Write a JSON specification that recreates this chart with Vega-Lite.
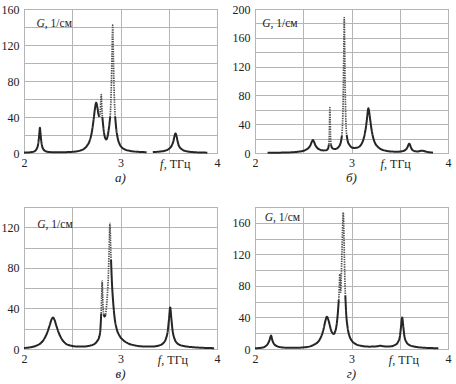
{
  "$schema": "https://vega.github.io/schema/vega-lite/v6.json",
  "padding": {"left": 0, "top": 2, "right": 0, "bottom": 0},
  "background": "white",
  "spacing": 14,
  "config": {
    "view": {"stroke": "#8c8c8c", "strokeWidth": 1},
    "font": "Liberation Serif",
    "axisX": {"title": null, "values": [2,2.2,2.4,2.6,2.8,3,3.2,3.4,3.6,3.8,4], "labelExpr": "abs(datum.value - round(datum.value)) < 0.01 ? format(datum.value, 'd') : ''", "grid": true, "gridColor": "#b5b5b5", "gridWidth": 1, "gridOpacity": 1, "ticks": false, "domain": false, "labelFont": "Liberation Serif", "labelFontSize": 12, "labelColor": "#222222", "labelPadding": 4, "labelFlush": false, "labelOverlap": false, "labelBound": false, "zindex": 0},
    "axisY": {"title": null, "labelExpr": "datum.value % 40 == 0 ? datum.label : ''", "grid": true, "gridColor": "#b5b5b5", "gridWidth": 1, "gridOpacity": 1, "ticks": false, "domain": false, "labelFont": "Liberation Serif", "labelFontSize": 12, "labelColor": "#222222", "labelPadding": 5, "labelFlush": false, "labelOverlap": false, "labelBound": false, "zindex": 0},
    "title": {"orient": "bottom", "font": "Liberation Serif", "fontSize": 13, "fontStyle": "italic", "fontWeight": "normal", "color": "#222222", "offset": 2}
  },
  "datasets": {
    "a": [
      {"f":2.00,"G":0.4,"s":1,"t":"s"},{"f":2.04,"G":0.6,"s":1,"t":"s"},{"f":2.08,"G":1.0,"s":1,"t":"s"},{"f":2.11,"G":2.0,"s":1,"t":"s"},{"f":2.13,"G":4.3,"s":1,"t":"s"},{"f":2.145,"G":9,"s":1,"t":"s"},{"f":2.155,"G":17,"s":1,"t":"s"},{"f":2.16,"G":23,"s":1,"t":"s"},{"f":2.165,"G":28,"s":1,"t":"s"},{"f":2.17,"G":23,"s":1,"t":"s"},{"f":2.175,"G":17,"s":1,"t":"s"},{"f":2.185,"G":9,"s":1,"t":"s"},{"f":2.20,"G":4.3,"s":1,"t":"s"},{"f":2.23,"G":1.8,"s":1,"t":"s"},{"f":2.27,"G":1.0,"s":1,"t":"s"},{"f":2.35,"G":0.8,"s":1,"t":"s"},{"f":2.45,"G":1.0,"s":1,"t":"s"},{"f":2.52,"G":1.5,"s":1,"t":"s"},{"f":2.58,"G":2.6,"s":1,"t":"s"},{"f":2.62,"G":4.5,"s":1,"t":"s"},{"f":2.65,"G":7.6,"s":1,"t":"s"},{"f":2.68,"G":13.5,"s":1,"t":"s"},{"f":2.70,"G":21.5,"s":1,"t":"s"},{"f":2.72,"G":36,"s":1,"t":"s"},{"f":2.735,"G":49,"s":1,"t":"s"},{"f":2.748,"G":56,"s":1,"t":"s"},{"f":2.76,"G":51,"s":1,"t":"s"},{"f":2.772,"G":43,"s":1,"t":"s"},{"f":2.782,"G":40,"s":1,"t":"s"},
      {"f":2.782,"G":40,"s":2,"t":"d"},{"f":2.79,"G":46,"s":2,"t":"d"},{"f":2.796,"G":58,"s":2,"t":"d"},{"f":2.80,"G":65,"s":2,"t":"d"},{"f":2.804,"G":58,"s":2,"t":"d"},{"f":2.808,"G":47,"s":2,"t":"d"},{"f":2.812,"G":40,"s":2,"t":"d"},
      {"f":2.812,"G":40,"s":3,"t":"s"},{"f":2.82,"G":31,"s":3,"t":"s"},{"f":2.83,"G":22,"s":3,"t":"s"},{"f":2.84,"G":17,"s":3,"t":"s"},{"f":2.854,"G":15,"s":3,"t":"s"},{"f":2.865,"G":18,"s":3,"t":"s"},{"f":2.875,"G":24,"s":3,"t":"s"},{"f":2.885,"G":32,"s":3,"t":"s"},{"f":2.893,"G":40,"s":3,"t":"s"},
      {"f":2.893,"G":40,"s":4,"t":"d"},{"f":2.90,"G":56,"s":4,"t":"d"},{"f":2.906,"G":78,"s":4,"t":"d"},{"f":2.912,"G":108,"s":4,"t":"d"},{"f":2.916,"G":130,"s":4,"t":"d"},{"f":2.919,"G":142,"s":4,"t":"d"},{"f":2.922,"G":130,"s":4,"t":"d"},{"f":2.926,"G":108,"s":4,"t":"d"},{"f":2.932,"G":78,"s":4,"t":"d"},{"f":2.938,"G":56,"s":4,"t":"d"},{"f":2.945,"G":40,"s":4,"t":"d"},
      {"f":2.945,"G":40,"s":5,"t":"s"},{"f":2.955,"G":28,"s":5,"t":"s"},{"f":2.97,"G":17,"s":5,"t":"s"},{"f":2.99,"G":10,"s":5,"t":"s"},{"f":3.01,"G":6.5,"s":5,"t":"s"},{"f":3.04,"G":4.2,"s":5,"t":"s"},{"f":3.08,"G":2.7,"s":5,"t":"s"},{"f":3.13,"G":1.8,"s":5,"t":"s"},{"f":3.20,"G":1.2,"s":5,"t":"s"},{"f":3.27,"G":0.9,"s":5,"t":"s"},
      {"f":3.335,"G":1.0,"s":6,"t":"s"},{"f":3.40,"G":1.5,"s":6,"t":"s"},{"f":3.45,"G":2.3,"s":6,"t":"s"},{"f":3.50,"G":4.5,"s":6,"t":"s"},{"f":3.53,"G":8,"s":6,"t":"s"},{"f":3.55,"G":14,"s":6,"t":"s"},{"f":3.56,"G":19,"s":6,"t":"s"},{"f":3.57,"G":22,"s":6,"t":"s"},{"f":3.58,"G":19,"s":6,"t":"s"},{"f":3.59,"G":14,"s":6,"t":"s"},{"f":3.605,"G":8,"s":6,"t":"s"},{"f":3.635,"G":4.2,"s":6,"t":"s"},{"f":3.68,"G":2,"s":6,"t":"s"},{"f":3.75,"G":1.0,"s":6,"t":"s"},{"f":3.82,"G":0.6,"s":6,"t":"s"},{"f":3.90,"G":0.4,"s":6,"t":"s"}
    ],
    "b": [
      {"f":2.13,"G":0.3,"s":1,"t":"s"},{"f":2.20,"G":0.4,"s":1,"t":"s"},{"f":2.30,"G":0.6,"s":1,"t":"s"},{"f":2.38,"G":1.0,"s":1,"t":"s"},{"f":2.44,"G":1.6,"s":1,"t":"s"},{"f":2.48,"G":2.4,"s":1,"t":"s"},{"f":2.52,"G":4.0,"s":1,"t":"s"},{"f":2.55,"G":6.5,"s":1,"t":"s"},{"f":2.575,"G":11,"s":1,"t":"s"},{"f":2.59,"G":16,"s":1,"t":"s"},{"f":2.60,"G":18,"s":1,"t":"s"},{"f":2.61,"G":16,"s":1,"t":"s"},{"f":2.625,"G":11,"s":1,"t":"s"},{"f":2.65,"G":6.5,"s":1,"t":"s"},{"f":2.68,"G":4.3,"s":1,"t":"s"},{"f":2.71,"G":3.6,"s":1,"t":"s"},{"f":2.735,"G":3.8,"s":1,"t":"s"},{"f":2.75,"G":4.8,"s":1,"t":"s"},{"f":2.76,"G":7.5,"s":1,"t":"s"},{"f":2.766,"G":12,"s":1,"t":"s"},
      {"f":2.766,"G":12,"s":2,"t":"d"},{"f":2.77,"G":25,"s":2,"t":"d"},{"f":2.773,"G":45,"s":2,"t":"d"},{"f":2.776,"G":63,"s":2,"t":"d"},{"f":2.779,"G":45,"s":2,"t":"d"},{"f":2.782,"G":25,"s":2,"t":"d"},{"f":2.787,"G":12,"s":2,"t":"d"},
      {"f":2.787,"G":12,"s":3,"t":"s"},{"f":2.795,"G":8,"s":3,"t":"s"},{"f":2.81,"G":6,"s":3,"t":"s"},{"f":2.83,"G":5.5,"s":3,"t":"s"},{"f":2.85,"G":6.5,"s":3,"t":"s"},{"f":2.87,"G":9,"s":3,"t":"s"},{"f":2.885,"G":13,"s":3,"t":"s"},{"f":2.895,"G":19,"s":3,"t":"s"},{"f":2.90,"G":24,"s":3,"t":"s"},
      {"f":2.90,"G":24,"s":4,"t":"d"},{"f":2.907,"G":40,"s":4,"t":"d"},{"f":2.913,"G":70,"s":4,"t":"d"},{"f":2.918,"G":115,"s":4,"t":"d"},{"f":2.922,"G":160,"s":4,"t":"d"},{"f":2.925,"G":188,"s":4,"t":"d"},{"f":2.928,"G":160,"s":4,"t":"d"},{"f":2.932,"G":115,"s":4,"t":"d"},{"f":2.937,"G":70,"s":4,"t":"d"},{"f":2.943,"G":40,"s":4,"t":"d"},{"f":2.95,"G":25,"s":4,"t":"d"},
      {"f":2.95,"G":25,"s":5,"t":"s"},{"f":2.96,"G":17,"s":5,"t":"s"},{"f":2.98,"G":11,"s":5,"t":"s"},{"f":3.00,"G":8,"s":5,"t":"s"},{"f":3.03,"G":7,"s":5,"t":"s"},{"f":3.06,"G":7.5,"s":5,"t":"s"},{"f":3.09,"G":10,"s":5,"t":"s"},{"f":3.11,"G":14,"s":5,"t":"s"},{"f":3.13,"G":22,"s":5,"t":"s"},{"f":3.145,"G":32,"s":5,"t":"s"},{"f":3.16,"G":47,"s":5,"t":"s"},{"f":3.175,"G":62,"s":5,"t":"s"},{"f":3.19,"G":50,"s":5,"t":"s"},{"f":3.205,"G":35,"s":5,"t":"s"},{"f":3.22,"G":24,"s":5,"t":"s"},{"f":3.24,"G":15,"s":5,"t":"s"},{"f":3.27,"G":9,"s":5,"t":"s"},{"f":3.31,"G":5,"s":5,"t":"s"},{"f":3.36,"G":3,"s":5,"t":"s"},{"f":3.42,"G":2,"s":5,"t":"s"},{"f":3.48,"G":1.8,"s":5,"t":"s"},{"f":3.53,"G":2.6,"s":5,"t":"s"},{"f":3.56,"G":4.5,"s":5,"t":"s"},{"f":3.58,"G":8,"s":5,"t":"s"},{"f":3.592,"G":12,"s":5,"t":"s"},{"f":3.598,"G":13,"s":5,"t":"s"},{"f":3.605,"G":12,"s":5,"t":"s"},{"f":3.615,"G":8,"s":5,"t":"s"},{"f":3.63,"G":4.5,"s":5,"t":"s"},{"f":3.66,"G":2.4,"s":5,"t":"s"},{"f":3.69,"G":2.2,"s":5,"t":"s"},{"f":3.71,"G":2.8,"s":5,"t":"s"},{"f":3.73,"G":3.2,"s":5,"t":"s"},{"f":3.75,"G":2.8,"s":5,"t":"s"},{"f":3.78,"G":1.6,"s":5,"t":"s"},{"f":3.81,"G":0.9,"s":5,"t":"s"},{"f":3.845,"G":0.5,"s":5,"t":"s"}
    ],
    "c": [
      {"f":2.00,"G":1.0,"s":1,"t":"s"},{"f":2.06,"G":1.6,"s":1,"t":"s"},{"f":2.12,"G":3,"s":1,"t":"s"},{"f":2.17,"G":5.5,"s":1,"t":"s"},{"f":2.21,"G":10,"s":1,"t":"s"},{"f":2.24,"G":16,"s":1,"t":"s"},{"f":2.265,"G":23,"s":1,"t":"s"},{"f":2.285,"G":29,"s":1,"t":"s"},{"f":2.30,"G":31,"s":1,"t":"s"},{"f":2.315,"G":29,"s":1,"t":"s"},{"f":2.335,"G":23,"s":1,"t":"s"},{"f":2.36,"G":16,"s":1,"t":"s"},{"f":2.39,"G":10,"s":1,"t":"s"},{"f":2.43,"G":5.5,"s":1,"t":"s"},{"f":2.48,"G":3.5,"s":1,"t":"s"},{"f":2.55,"G":2.5,"s":1,"t":"s"},{"f":2.62,"G":2.5,"s":1,"t":"s"},{"f":2.68,"G":3.2,"s":1,"t":"s"},{"f":2.73,"G":5,"s":1,"t":"s"},{"f":2.76,"G":8,"s":1,"t":"s"},{"f":2.78,"G":12,"s":1,"t":"s"},{"f":2.792,"G":20,"s":1,"t":"s"},{"f":2.80,"G":35,"s":1,"t":"s"},
      {"f":2.80,"G":35,"s":2,"t":"d"},{"f":2.805,"G":52,"s":2,"t":"d"},{"f":2.81,"G":67,"s":2,"t":"d"},{"f":2.815,"G":52,"s":2,"t":"d"},{"f":2.82,"G":40,"s":2,"t":"d"},{"f":2.826,"G":34,"s":2,"t":"d"},
      {"f":2.826,"G":34,"s":3,"t":"s"},{"f":2.835,"G":32,"s":3,"t":"s"},{"f":2.845,"G":34,"s":3,"t":"s"},
      {"f":2.845,"G":34,"s":4,"t":"d"},{"f":2.855,"G":42,"s":4,"t":"d"},{"f":2.865,"G":55,"s":4,"t":"d"},{"f":2.875,"G":75,"s":4,"t":"d"},{"f":2.883,"G":100,"s":4,"t":"d"},{"f":2.89,"G":124,"s":4,"t":"d"},{"f":2.896,"G":108,"s":4,"t":"d"},{"f":2.902,"G":88,"s":4,"t":"d"},
      {"f":2.902,"G":88,"s":5,"t":"s"},{"f":2.91,"G":68,"s":5,"t":"s"},{"f":2.925,"G":45,"s":5,"t":"s"},{"f":2.94,"G":30,"s":5,"t":"s"},{"f":2.96,"G":20,"s":5,"t":"s"},{"f":2.99,"G":13,"s":5,"t":"s"},{"f":3.03,"G":8.5,"s":5,"t":"s"},{"f":3.08,"G":5.5,"s":5,"t":"s"},{"f":3.15,"G":3.5,"s":5,"t":"s"},{"f":3.25,"G":2.5,"s":5,"t":"s"},{"f":3.33,"G":2.5,"s":5,"t":"s"},{"f":3.40,"G":3.5,"s":5,"t":"s"},{"f":3.44,"G":5.5,"s":5,"t":"s"},{"f":3.47,"G":10,"s":5,"t":"s"},{"f":3.49,"G":18,"s":5,"t":"s"},{"f":3.503,"G":30,"s":5,"t":"s"},{"f":3.515,"G":41,"s":5,"t":"s"},{"f":3.527,"G":30,"s":5,"t":"s"},{"f":3.54,"G":18,"s":5,"t":"s"},{"f":3.56,"G":10,"s":5,"t":"s"},{"f":3.59,"G":5.5,"s":5,"t":"s"},{"f":3.65,"G":3,"s":5,"t":"s"},{"f":3.75,"G":1.8,"s":5,"t":"s"},{"f":3.85,"G":1.2,"s":5,"t":"s"},{"f":3.97,"G":0.8,"s":5,"t":"s"}
    ],
    "d": [
      {"f":2.00,"G":1.0,"s":1,"t":"s"},{"f":2.06,"G":1.5,"s":1,"t":"s"},{"f":2.10,"G":2.8,"s":1,"t":"s"},{"f":2.13,"G":6,"s":1,"t":"s"},{"f":2.15,"G":11,"s":1,"t":"s"},{"f":2.166,"G":17,"s":1,"t":"s"},{"f":2.18,"G":11,"s":1,"t":"s"},{"f":2.20,"G":6,"s":1,"t":"s"},{"f":2.24,"G":3,"s":1,"t":"s"},{"f":2.30,"G":1.8,"s":1,"t":"s"},{"f":2.40,"G":1.5,"s":1,"t":"s"},{"f":2.50,"G":2,"s":1,"t":"s"},{"f":2.56,"G":3,"s":1,"t":"s"},{"f":2.62,"G":6,"s":1,"t":"s"},{"f":2.66,"G":10,"s":1,"t":"s"},{"f":2.69,"G":17,"s":1,"t":"s"},{"f":2.71,"G":25,"s":1,"t":"s"},{"f":2.73,"G":36,"s":1,"t":"s"},{"f":2.745,"G":41,"s":1,"t":"s"},{"f":2.76,"G":37,"s":1,"t":"s"},{"f":2.775,"G":30,"s":1,"t":"s"},{"f":2.79,"G":23,"s":1,"t":"s"},{"f":2.805,"G":20,"s":1,"t":"s"},{"f":2.817,"G":19,"s":1,"t":"s"},{"f":2.83,"G":22,"s":1,"t":"s"},{"f":2.845,"G":30,"s":1,"t":"s"},{"f":2.858,"G":45,"s":1,"t":"s"},{"f":2.868,"G":62,"s":1,"t":"s"},
      {"f":2.868,"G":62,"s":2,"t":"d"},{"f":2.874,"G":80,"s":2,"t":"d"},{"f":2.879,"G":95,"s":2,"t":"d"},{"f":2.883,"G":78,"s":2,"t":"d"},{"f":2.888,"G":72,"s":2,"t":"d"},{"f":2.894,"G":92,"s":2,"t":"d"},{"f":2.90,"G":118,"s":2,"t":"d"},{"f":2.906,"G":146,"s":2,"t":"d"},{"f":2.911,"G":166,"s":2,"t":"d"},{"f":2.915,"G":173,"s":2,"t":"d"},{"f":2.919,"G":160,"s":2,"t":"d"},{"f":2.924,"G":130,"s":2,"t":"d"},{"f":2.93,"G":95,"s":2,"t":"d"},{"f":2.936,"G":68,"s":2,"t":"d"},
      {"f":2.936,"G":68,"s":3,"t":"s"},{"f":2.945,"G":45,"s":3,"t":"s"},{"f":2.96,"G":27,"s":3,"t":"s"},{"f":2.98,"G":16,"s":3,"t":"s"},{"f":3.00,"G":11,"s":3,"t":"s"},{"f":3.04,"G":6.5,"s":3,"t":"s"},{"f":3.10,"G":4,"s":3,"t":"s"},{"f":3.18,"G":3,"s":3,"t":"s"},{"f":3.25,"G":3.2,"s":3,"t":"s"},{"f":3.30,"G":4,"s":3,"t":"s"},{"f":3.35,"G":3.2,"s":3,"t":"s"},{"f":3.40,"G":3.3,"s":3,"t":"s"},{"f":3.45,"G":5,"s":3,"t":"s"},{"f":3.48,"G":8.5,"s":3,"t":"s"},{"f":3.50,"G":15,"s":3,"t":"s"},{"f":3.513,"G":28,"s":3,"t":"s"},{"f":3.525,"G":40,"s":3,"t":"s"},{"f":3.537,"G":28,"s":3,"t":"s"},{"f":3.55,"G":15,"s":3,"t":"s"},{"f":3.57,"G":8.5,"s":3,"t":"s"},{"f":3.60,"G":5,"s":3,"t":"s"},{"f":3.66,"G":2.8,"s":3,"t":"s"},{"f":3.75,"G":1.6,"s":3,"t":"s"},{"f":3.85,"G":1.1,"s":3,"t":"s"},{"f":3.90,"G":0.9,"s":3,"t":"s"}
    ]
  },
  "vconcat": [
    {
      "spacing": 10,
      "hconcat": [
        {
          "width": 193, "height": 144,
          "title": {"text": "а)"},
          "encoding": {
            "x": {"field": "f", "type": "quantitative", "scale": {"domain": [2, 4], "nice": false, "zero": false}},
            "y": {"field": "G", "type": "quantitative", "scale": {"domain": [0, 160], "nice": false}, "axis": {"values": [0,20,40,60,80,100,120,140,160]}}
          },
          "layer": [
            {"data": {"name": "a"}, "mark": {"type": "line", "interpolate": "monotone"},
             "encoding": {
               "detail": {"field": "s"},
               "color": {"field": "t", "type": "nominal", "scale": {"domain": ["s","d"], "range": ["#262626","#505050"]}, "legend": null},
               "strokeDash": {"field": "t", "type": "nominal", "scale": {"domain": ["s","d"], "range": [[1,0],[1.4,1]]}, "legend": null},
               "strokeWidth": {"field": "t", "type": "ordinal", "scale": {"domain": ["s","d"], "range": [2,1.7]}, "legend": null}
             }},
            {"data": {"values": [{"f": 2.13, "G": 143}]}, "mark": {"type": "text", "align": "left", "baseline": "middle", "font": "Liberation Serif", "fontSize": 11.5, "fontStyle": "italic", "color": "#222222"}, "encoding": {"text": {"value": "G"}}},
            {"data": {"values": [{"f": 2.13, "G": 143}]}, "mark": {"type": "text", "align": "left", "baseline": "middle", "font": "Liberation Serif", "fontSize": 11.5, "dx": 8.3, "color": "#222222"}, "encoding": {"text": {"value": ", 1/см"}}},
            {"data": {"values": [{"f": 3.41, "G": 0}]}, "mark": {"type": "text", "align": "left", "baseline": "middle", "font": "Liberation Serif", "fontSize": 12, "fontStyle": "italic", "dy": 11, "color": "#222222"}, "encoding": {"text": {"value": "f"}}},
            {"data": {"values": [{"f": 3.41, "G": 0}]}, "mark": {"type": "text", "align": "left", "baseline": "middle", "font": "Liberation Serif", "fontSize": 12, "dx": 3.6, "dy": 11, "color": "#222222"}, "encoding": {"text": {"value": ", ТГц"}}}
          ]
        },
        {
          "width": 193, "height": 144,
          "title": {"text": "б)"},
          "encoding": {
            "x": {"field": "f", "type": "quantitative", "scale": {"domain": [2, 4], "nice": false, "zero": false}},
            "y": {"field": "G", "type": "quantitative", "scale": {"domain": [0, 200], "nice": false}, "axis": {"values": [0,20,40,60,80,100,120,140,160,180,200]}}
          },
          "layer": [
            {"data": {"name": "b"}, "mark": {"type": "line", "interpolate": "monotone"},
             "encoding": {
               "detail": {"field": "s"},
               "color": {"field": "t", "type": "nominal", "scale": {"domain": ["s","d"], "range": ["#262626","#505050"]}, "legend": null},
               "strokeDash": {"field": "t", "type": "nominal", "scale": {"domain": ["s","d"], "range": [[1,0],[1.4,1]]}, "legend": null},
               "strokeWidth": {"field": "t", "type": "ordinal", "scale": {"domain": ["s","d"], "range": [2,1.7]}, "legend": null}
             }},
            {"data": {"values": [{"f": 2.075, "G": 179}]}, "mark": {"type": "text", "align": "left", "baseline": "middle", "font": "Liberation Serif", "fontSize": 11.5, "fontStyle": "italic", "color": "#222222"}, "encoding": {"text": {"value": "G"}}},
            {"data": {"values": [{"f": 2.075, "G": 179}]}, "mark": {"type": "text", "align": "left", "baseline": "middle", "font": "Liberation Serif", "fontSize": 11.5, "dx": 8.3, "color": "#222222"}, "encoding": {"text": {"value": ", 1/см"}}},
            {"data": {"values": [{"f": 3.30, "G": 0}]}, "mark": {"type": "text", "align": "left", "baseline": "middle", "font": "Liberation Serif", "fontSize": 12, "fontStyle": "italic", "dy": 11, "color": "#222222"}, "encoding": {"text": {"value": "f"}}},
            {"data": {"values": [{"f": 3.30, "G": 0}]}, "mark": {"type": "text", "align": "left", "baseline": "middle", "font": "Liberation Serif", "fontSize": 12, "dx": 3.6, "dy": 11, "color": "#222222"}, "encoding": {"text": {"value": ", ТГц"}}}
          ]
        }
      ]
    },
    {
      "spacing": 10,
      "hconcat": [
        {
          "width": 193, "height": 142,
          "title": {"text": "в)"},
          "encoding": {
            "x": {"field": "f", "type": "quantitative", "scale": {"domain": [2, 4], "nice": false, "zero": false}},
            "y": {"field": "G", "type": "quantitative", "scale": {"domain": [0, 140], "nice": false}, "axis": {"values": [0,20,40,60,80,100,120,140]}}
          },
          "layer": [
            {"data": {"name": "c"}, "mark": {"type": "line", "interpolate": "monotone"},
             "encoding": {
               "detail": {"field": "s"},
               "color": {"field": "t", "type": "nominal", "scale": {"domain": ["s","d"], "range": ["#262626","#505050"]}, "legend": null},
               "strokeDash": {"field": "t", "type": "nominal", "scale": {"domain": ["s","d"], "range": [[1,0],[1.4,1]]}, "legend": null},
               "strokeWidth": {"field": "t", "type": "ordinal", "scale": {"domain": ["s","d"], "range": [2,1.7]}, "legend": null}
             }},
            {"data": {"values": [{"f": 2.138, "G": 122}]}, "mark": {"type": "text", "align": "left", "baseline": "middle", "font": "Liberation Serif", "fontSize": 11.5, "fontStyle": "italic", "color": "#222222"}, "encoding": {"text": {"value": "G"}}},
            {"data": {"values": [{"f": 2.138, "G": 122}]}, "mark": {"type": "text", "align": "left", "baseline": "middle", "font": "Liberation Serif", "fontSize": 11.5, "dx": 8.3, "color": "#222222"}, "encoding": {"text": {"value": ", 1/см"}}},
            {"data": {"values": [{"f": 3.386, "G": 0}]}, "mark": {"type": "text", "align": "left", "baseline": "middle", "font": "Liberation Serif", "fontSize": 12, "fontStyle": "italic", "dy": 11, "color": "#222222"}, "encoding": {"text": {"value": "f"}}},
            {"data": {"values": [{"f": 3.386, "G": 0}]}, "mark": {"type": "text", "align": "left", "baseline": "middle", "font": "Liberation Serif", "fontSize": 12, "dx": 3.6, "dy": 11, "color": "#222222"}, "encoding": {"text": {"value": ", ТГц"}}}
          ]
        },
        {
          "width": 193, "height": 142,
          "title": {"text": "г)"},
          "encoding": {
            "x": {"field": "f", "type": "quantitative", "scale": {"domain": [2, 4], "nice": false, "zero": false}},
            "y": {"field": "G", "type": "quantitative", "scale": {"domain": [0, 180], "nice": false}, "axis": {"values": [0,20,40,60,80,100,120,140,160,180]}}
          },
          "layer": [
            {"data": {"name": "d"}, "mark": {"type": "line", "interpolate": "monotone"},
             "encoding": {
               "detail": {"field": "s"},
               "color": {"field": "t", "type": "nominal", "scale": {"domain": ["s","d"], "range": ["#262626","#505050"]}, "legend": null},
               "strokeDash": {"field": "t", "type": "nominal", "scale": {"domain": ["s","d"], "range": [[1,0],[1.4,1]]}, "legend": null},
               "strokeWidth": {"field": "t", "type": "ordinal", "scale": {"domain": ["s","d"], "range": [2,1.7]}, "legend": null}
             }},
            {"data": {"values": [{"f": 2.10, "G": 166}]}, "mark": {"type": "text", "align": "left", "baseline": "middle", "font": "Liberation Serif", "fontSize": 11.5, "fontStyle": "italic", "color": "#222222"}, "encoding": {"text": {"value": "G"}}},
            {"data": {"values": [{"f": 2.10, "G": 166}]}, "mark": {"type": "text", "align": "left", "baseline": "middle", "font": "Liberation Serif", "fontSize": 11.5, "dx": 8.3, "color": "#222222"}, "encoding": {"text": {"value": ", 1/см"}}},
            {"data": {"values": [{"f": 3.386, "G": 0}]}, "mark": {"type": "text", "align": "left", "baseline": "middle", "font": "Liberation Serif", "fontSize": 12, "fontStyle": "italic", "dy": 11, "color": "#222222"}, "encoding": {"text": {"value": "f"}}},
            {"data": {"values": [{"f": 3.386, "G": 0}]}, "mark": {"type": "text", "align": "left", "baseline": "middle", "font": "Liberation Serif", "fontSize": 12, "dx": 3.6, "dy": 11, "color": "#222222"}, "encoding": {"text": {"value": ", ТГц"}}}
          ]
        }
      ]
    }
  ]
}
